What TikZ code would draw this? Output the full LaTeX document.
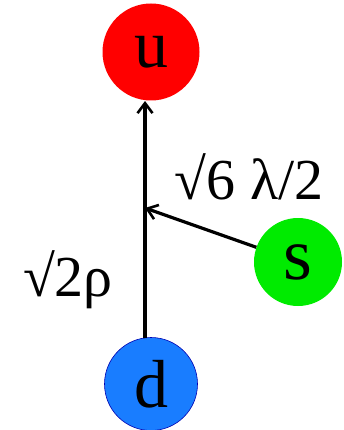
\documentclass[tikz,border=0pt]{standalone}
\usepackage{fontspec}
\setmainfont{Liberation Serif}
\usetikzlibrary{arrows.meta}
\definecolor{nred}{RGB}{255,0,0}
\definecolor{ngreen}{RGB}{0,235,0}
\definecolor{nblue}{RGB}{25,125,255}
\begin{document}
\begin{tikzpicture}[x=1pt,y=-1pt,
  particle/.style={circle,minimum size=#1,inner sep=0pt,font=\fontsize{68}{72}\selectfont},
  flow/.style={line width=3.2pt,-{Straight Barb[length=10pt,width=15pt,line width=2.6pt]}},
  lab/.style={font=\fontsize{58}{64}\selectfont,inner sep=0pt}]
\useasboundingbox (0,0) rectangle (343,430);
\node[particle=97pt,fill=nred] (u) at (151,52) {u};
\node[particle=93pt,fill=nblue,draw=blue!70!black,line width=0.6pt] (d) at (151,384) {d};
\node[particle=88pt,fill=ngreen,font=\fontsize{74}{78}\selectfont] (s) at (298,262) {s};
\coordinate (j) at (145,208);
\draw[line width=3.2pt] (145,338) -- (j);
\draw[flow] (j) -- (145,101);
\draw[flow] (s) -- (j);
\node[lab] (l1) at (249,177) {√6 λ/2};
\node[lab] (l2) at (68,280) {√2ρ};
\end{tikzpicture}
\end{document}
